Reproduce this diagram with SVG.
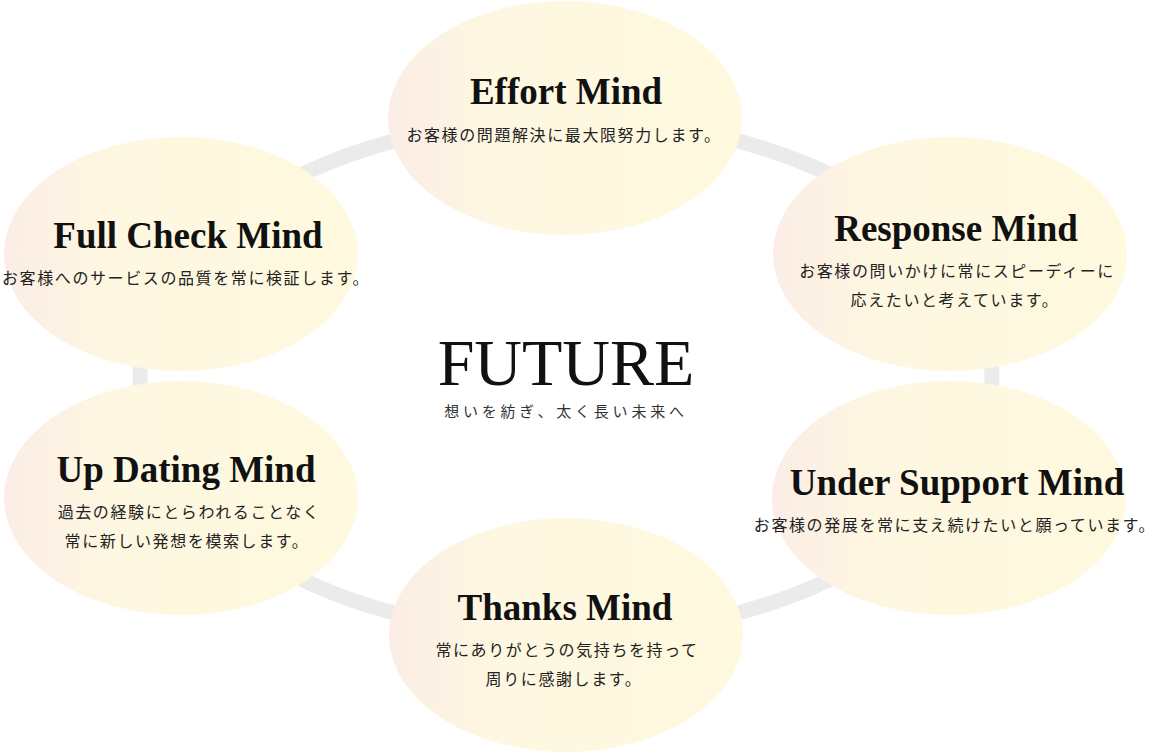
<svg xmlns="http://www.w3.org/2000/svg" width="1164" height="754" viewBox="0 0 1164 754">
<defs>
<linearGradient id="g" x1="0" y1="0" x2="1" y2="0">
<stop offset="0" stop-color="#fbede6"/>
<stop offset="0.3" stop-color="#fef7e1"/>
<stop offset="1" stop-color="#fff9df"/>
</linearGradient>
<style>
.bub{fill:url(#g);}
.ttl{font-family:"Liberation Serif","Noto Sans CJK JP",serif;font-size:37px;font-weight:bold;fill:#111;text-anchor:middle;}
.sub{font-family:"Noto Sans CJK JP",sans-serif;font-size:16px;fill:#222;text-anchor:middle;letter-spacing:1.6px;}
.ring{fill:none;stroke:#ebebeb;stroke-width:15;}
</style>
</defs>
<rect width="1164" height="754" fill="#ffffff"/>
<g id="connectors">
<ellipse class="ring" cx="566" cy="377" rx="426" ry="258"/>
</g>
<g id="center">
<text x="566" y="385" font-family="Liberation Serif, serif" font-size="66" fill="#111" text-anchor="middle">FUTURE</text>
<text x="566" y="417" font-family="Noto Sans CJK JP, sans-serif" font-size="15" fill="#333" text-anchor="middle" letter-spacing="3.8">想いを紡ぎ、太く長い未来へ</text>
</g>
<g id="effort">
<ellipse class="bub" cx="565" cy="118" rx="177" ry="117"/>
<text class="ttl" x="566" y="104">Effort Mind</text>
<text class="sub" x="564" y="141">お客様の問題解決に最大限努力します。</text>
</g>
<g id="fullcheck">
<ellipse class="bub" cx="181" cy="254" rx="177" ry="117"/>
<text class="ttl" x="188" y="248">Full Check Mind</text>
<text class="sub" x="186" y="284">お客様へのサービスの品質を常に検証します。</text>
</g>
<g id="response">
<ellipse class="bub" cx="950" cy="254" rx="177" ry="117"/>
<text class="ttl" x="956" y="241">Response Mind</text>
<text class="sub" x="957" y="277">お客様の問いかけに常にスピーディーに</text>
<text class="sub" x="955" y="306">応えたいと考えています。</text>
</g>
<g id="updating">
<ellipse class="bub" cx="181" cy="498" rx="177" ry="117"/>
<text class="ttl" x="186" y="482">Up Dating Mind</text>
<text class="sub" x="189" y="518">過去の経験にとらわれることなく</text>
<text class="sub" x="187" y="547">常に新しい発想を模索します。</text>
</g>
<g id="undersupport">
<ellipse class="bub" cx="949" cy="498" rx="177" ry="117"/>
<text class="ttl" x="957" y="495">Under Support Mind</text>
<text class="sub" x="955" y="531">お客様の発展を常に支え続けたいと願っています。</text>
</g>
<g id="thanks">
<ellipse class="bub" cx="566" cy="635" rx="177" ry="117"/>
<text class="ttl" x="565" y="620">Thanks Mind</text>
<text class="sub" x="567" y="656">常にありがとうの気持ちを持って</text>
<text class="sub" x="564" y="685">周りに感謝します。</text>
</g>
</svg>
